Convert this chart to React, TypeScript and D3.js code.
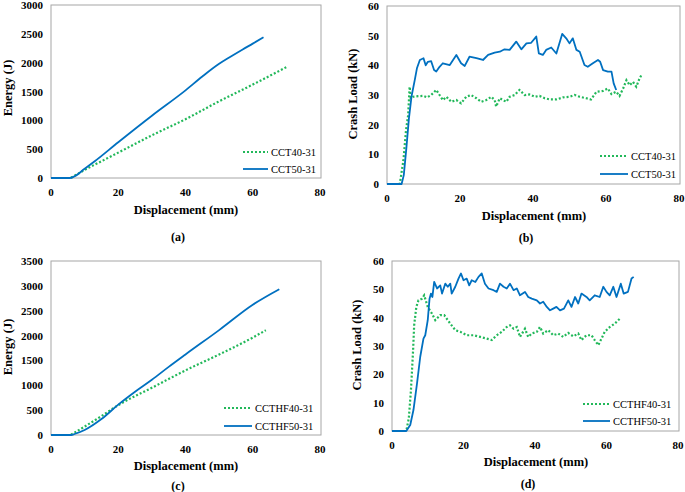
import React from "react";
import * as d3 from "d3";

type Pt = [number, number];

// Panel (a) energy
const energyCCT40: Pt[] = [[0,0],[5.5,0],[7,40],[10,140],[15,290],[20,440],[30,740],[40,1020],[50,1330],[60,1620],[70,1922]];
const energyCCT50: Pt[] = [[0,0],[5.5,0],[7,30],[10,160],[13,290],[20,620],[30,1080],[40,1520],[45,1760],[50,1980],[53,2090],[57,2230],[60,2330],[63.2,2440]];

// Panel (c) energy
const energyCCTHF40: Pt[] = [[0,0],[5.5,0],[7,50],[10,170],[15,380],[20,600],[30,950],[40,1300],[50,1620],[60,1960],[63.9,2108]];
const energyCCTHF50: Pt[] = [[0,0],[6,0],[7,20],[10,100],[15,320],[20,610],[25,870],[30,1110],[35,1370],[40,1620],[50,2110],[60,2620],[67.9,2932]];

// Panel (b) crash load
const loadCCT40: Pt[] = [[0,0],[3.5,0],[4.5,8],[5.2,18],[5.8,23.3],[6.2,32.8],[6.5,29],[7.1,29.4],[8.5,29.6],[9.9,29.7],[11,29.2],[12.1,30],[13.5,31.7],[14.4,30],[15.3,28.3],[16.3,29.4],[17.6,27.7],[19,28.3],[20.3,27.2],[21.7,29.4],[23,30],[24.5,28.9],[25.8,27.7],[27.2,28.3],[28.6,29.4],[29.5,28.3],[29.9,26.1],[30.9,28.9],[31.8,28.3],[32.7,27.7],[33.6,29.4],[35,30],[36.3,31.7],[37.7,30],[39,30.2],[40.5,29.4],[41.8,29.7],[43.2,28.9],[44.6,28.5],[46.4,28.5],[48.2,29.2],[50,29.4],[51.4,30],[52.8,29.4],[54.6,28.9],[55.9,28.5],[57.4,31.1],[59.2,31.4],[60.5,32.2],[61.5,30.3],[62.8,31.1],[63.7,29.7],[64.7,32.2],[65.6,35],[66.5,33.3],[67.4,34.4],[68.3,32.8],[69.2,35.6],[69.7,36.7]];
const loadCCT50: Pt[] = [[0,0],[4,0],[4.6,3],[5.3,12],[6,22],[6.7,29.4],[7.6,35],[8.2,39],[9,41.8],[10,42.4],[10.6,40],[11.2,41.2],[12.1,41.4],[12.9,38.4],[13.5,37.9],[14.4,39.5],[15.3,40.7],[17.2,40.1],[19,43.5],[20.3,40.7],[21.3,39.8],[22.6,42.9],[24.5,42.4],[26.3,41.8],[27.7,43.5],[29.5,44.3],[30.9,44.6],[32.2,45.4],[33.6,45.2],[35.4,48],[36.8,45.4],[38.2,47.4],[39.5,47.6],[40.9,49.7],[41.6,44],[42.7,43.5],[43.6,45.2],[45,46],[46.4,44],[48,50.6],[49.1,49.1],[50,47.4],[50.9,49.1],[51.9,45.2],[52.8,44.6],[54.1,40.1],[55,39.5],[56.4,40.7],[57.8,41.8],[58.4,41.2],[59.2,38.4],[60.5,37.9],[61.5,37.9],[62.1,33.9],[62.8,31.7]];

// Panel (d) crash load
const loadCCTHF40: Pt[] = [[0,0],[4,0],[4.7,4.5],[5.3,14.4],[5.9,28.5],[6.2,37.3],[6.8,43.8],[7.4,46.1],[8.4,46.7],[9,47.9],[10,43.8],[11.2,41.4],[12.1,39.1],[13.5,40.9],[14.6,40.9],[16.3,37.9],[17.7,35.6],[19.1,35],[20.9,33.8],[22.8,33.8],[24.7,33.2],[26.5,32.6],[27.9,32.1],[29.3,33.8],[30.7,35],[32.1,36.7],[33,37.3],[34,36.1],[34.9,36.7],[35.8,33.2],[37.2,36.1],[38.1,33.2],[39.1,34.4],[40.5,35],[41.4,36.7],[42.3,34.4],[43.7,35.6],[45.1,33.8],[46.5,34.4],[47.9,33.2],[49.3,34.6],[50.7,33.4],[52.1,34.4],[53,32.1],[54.4,33.8],[55.8,33.8],[56.7,32.1],[57.7,30.3],[58.6,32.6],[59.5,35],[60.9,36.7],[62.3,37.9],[63.7,39.6]];
const loadCCTHF50: Pt[] = [[0,0],[4,0],[5.1,2.1],[6,7.4],[7,16.8],[7.9,26.2],[8.8,32.6],[9.3,33.8],[10,39.1],[10.5,46.7],[10.9,48.5],[11.3,47.3],[11.8,52.6],[12.6,50.3],[13.5,51.4],[14,48.5],[14.9,52],[15.6,50.9],[16.3,52],[16.7,48.5],[17.7,50.9],[18.6,53.8],[19.3,55.6],[20,53.2],[20.9,53.8],[21.6,51.4],[22.3,53.2],[23.3,52.6],[24.2,54.4],[25.1,55.6],[26,52],[27,50.3],[28.4,49.7],[29.3,49.1],[30.2,52],[31.2,50.9],[32.1,50.3],[33,52],[34,49.7],[34.9,50.3],[35.8,47.9],[37.2,49.1],[38.1,47.3],[39.1,46.7],[40.5,46.1],[41.4,45],[42.3,45.6],[43.3,43.8],[44.2,42.6],[45.1,43.2],[46,43.8],[47,42.6],[48.1,43.2],[49.3,46.1],[50.2,43.8],[51.2,47.3],[52.1,45],[53,48.5],[54.4,47.3],[55.3,46.1],[56.7,47.9],[58.1,47.3],[59.1,50.9],[60,49.1],[60.9,47.9],[61.9,50.9],[62.8,47.3],[64,52],[64.8,48.5],[66,49.1],[67,53.8],[67.6,54.4]];

const xTicks = [0, 20, 40, 60, 80];
const energyTicksA = [0, 500, 1000, 1500, 2000, 2500, 3000];
const energyTicksC = [0, 500, 1000, 1500, 2000, 2500, 3000, 3500];
const loadTicks = [0, 10, 20, 30, 40, 50, 60];

const GREEN = "#22B85A";
const BLUE = "#0070C0";
const FONT = "'Liberation Serif', 'Times New Roman', serif";

interface PanelProps {
  x0: number; x1: number; yTop: number; yBot: number;
  yMax: number; yTicks: number[];
  dotted: Pt[]; solid: Pt[]; smooth: boolean;
  names: [string, string];
  yTitle: string; yTitleX: number; yTitleY: number;
  xTitleX: number; xTitleY: number;
  tag: string; tagY: number;
  leg: { x0: number; x1: number; y0: number; y1: number };
}

function Panel(p: PanelProps) {
  const xs = d3.scaleLinear().domain([0, 80]).range([p.x0, p.x1]);
  const ys = d3.scaleLinear().domain([0, p.yMax]).range([p.yBot, p.yTop]);
  const line = d3.line<Pt>().x(d => xs(d[0])).y(d => ys(d[1]))
    .curve(p.smooth ? d3.curveMonotoneX : d3.curveLinear);
  return (
    <g>
      <rect x={p.x0} y={p.yTop} width={p.x1 - p.x0 + 1} height={p.yBot - p.yTop} fill="none" stroke="#a6a6a6" strokeWidth={1} />
      {xTicks.map(t => (
        <text key={"x" + t} x={xs(t)} y={p.yBot + 18} textAnchor="middle" fontFamily={FONT} fontWeight="bold" fontSize={11}>{t}</text>
      ))}
      {p.yTicks.map(t => (
        <text key={"y" + t} x={p.x0 - 8} y={ys(t) + 4} textAnchor="end" fontFamily={FONT} fontWeight="bold" fontSize={11}>{t}</text>
      ))}
      <path d={line(p.dotted) || ""} fill="none" stroke={GREEN} strokeWidth={2.2} strokeDasharray="2 2" />
      <path d={line(p.solid) || ""} fill="none" stroke={BLUE} strokeWidth={1.8} strokeLinejoin="round" />
      <line x1={p.leg.x0} x2={p.leg.x1} y1={p.leg.y0} y2={p.leg.y0} stroke={GREEN} strokeWidth={2.2} strokeDasharray="2 2" />
      <text x={p.leg.x1 + 3} y={p.leg.y0 + 4} fontFamily={FONT} fontSize={10.5}>{p.names[0]}</text>
      <line x1={p.leg.x0} x2={p.leg.x1} y1={p.leg.y1} y2={p.leg.y1} stroke={BLUE} strokeWidth={1.8} />
      <text x={p.leg.x1 + 3} y={p.leg.y1 + 4} fontFamily={FONT} fontSize={10.5}>{p.names[1]}</text>
      <text x={p.xTitleX} y={p.xTitleY} textAnchor="middle" fontFamily={FONT} fontWeight="bold" fontSize={12.5}>Displacement (mm)</text>
      <text transform={`translate(${p.yTitleX},${p.yTitleY}) rotate(-90)`} textAnchor="middle" fontFamily={FONT} fontWeight="bold" fontSize={12.5}>{p.yTitle}</text>
      <text x={p.xTitleX - 8} y={p.tagY} textAnchor="middle" fontFamily={FONT} fontWeight="bold" fontSize={12}>{p.tag}</text>
    </g>
  );
}

export default function App() {
  return (
    <svg width={685} height={492} style={{ position: "absolute", left: 0, top: 0, background: "#fff" }}>
      <Panel x0={51} x1={320} yTop={5} yBot={178} yMax={3000} yTicks={energyTicksA} smooth={true}
        dotted={energyCCT40} solid={energyCCT50} names={["CCT40-31", "CCT50-31"]}
        yTitle="Energy (J)" yTitleX={12} yTitleY={88} xTitleX={186} xTitleY={214}
        tag="(a)" tagY={241} leg={{ x0: 243, x1: 268, y0: 152, y1: 169 }} />
      <Panel x0={387} x1={679} yTop={6} yBot={184} yMax={60} yTicks={loadTicks} smooth={false}
        dotted={loadCCT40} solid={loadCCT50} names={["CCT40-31", "CCT50-31"]}
        yTitle="Crash Load (kN)" yTitleX={357} yTitleY={94} xTitleX={534} xTitleY={220}
        tag="(b)" tagY={242} leg={{ x0: 600, x1: 628, y0: 156, y1: 174 }} />
      <Panel x0={51} x1={320} yTop={261} yBot={435} yMax={3500} yTicks={energyTicksC} smooth={true}
        dotted={energyCCTHF40} solid={energyCCTHF50} names={["CCTHF40-31", "CCTHF50-31"]}
        yTitle="Energy (J)" yTitleX={12} yTitleY={347} xTitleX={186} xTitleY={470}
        tag="(c)" tagY={490} leg={{ x0: 224, x1: 252, y0: 408, y1: 426 }} />
      <Panel x0={392} x1={678} yTop={261} yBot={431} yMax={60} yTicks={loadTicks} smooth={false}
        dotted={loadCCTHF40} solid={loadCCTHF50} names={["CCTHF40-31", "CCTHF50-31"]}
        yTitle="Crash Load (kN)" yTitleX={361} yTitleY={345} xTitleX={536} xTitleY={466}
        tag="(d)" tagY={488} leg={{ x0: 583, x1: 610, y0: 404, y1: 421 }} />
    </svg>
  );
}
